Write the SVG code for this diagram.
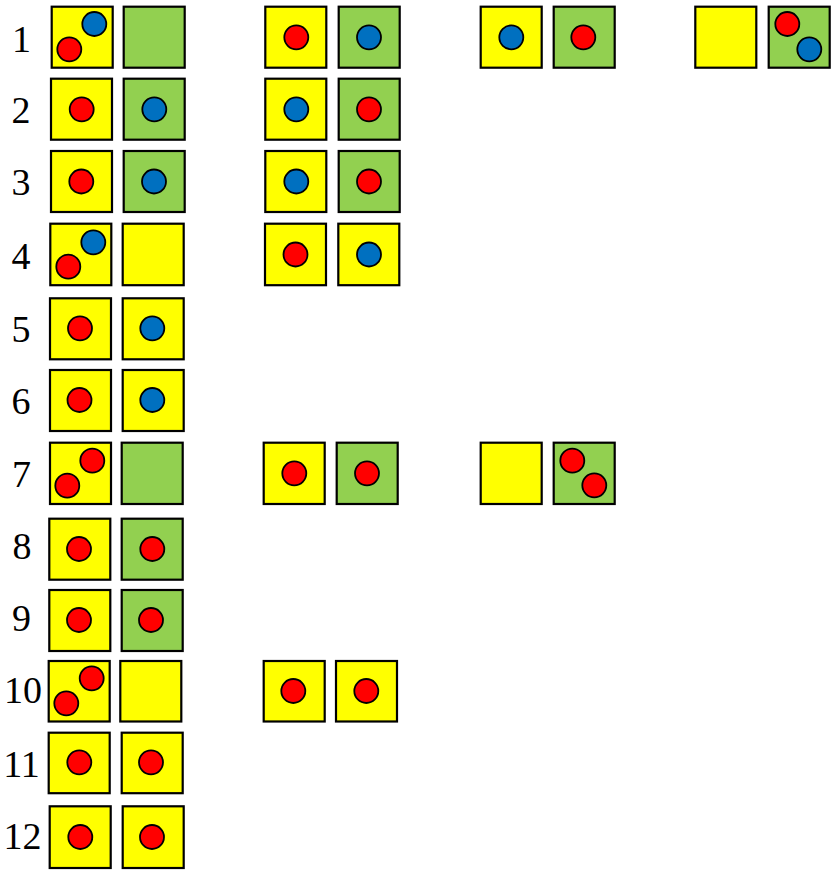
<svg xmlns="http://www.w3.org/2000/svg" width="839" height="873" viewBox="0 0 839 873">
<style>
.y{fill:#FFFF00;stroke:#000;stroke-width:2.2}
.g{fill:#92D050;stroke:#000;stroke-width:2.2}
.r{fill:#FF0000;stroke:#000;stroke-width:1.8}
.b{fill:#0070C0;stroke:#000;stroke-width:1.8}
.lbl{font-family:"Liberation Serif","Times New Roman",serif;font-size:38px;fill:#000;text-anchor:middle}
</style>
<rect width="839" height="873" fill="#fff"/>
<g id="labels">
<text class="lbl" x="21.5" y="51.7">1</text>
<text class="lbl" x="21" y="122.7">2</text>
<text class="lbl" x="21" y="195">3</text>
<text class="lbl" x="21" y="269">4</text>
<text class="lbl" x="21" y="342">5</text>
<text class="lbl" x="21" y="414">6</text>
<text class="lbl" x="21.5" y="486.7">7</text>
<text class="lbl" x="22" y="559">8</text>
<text class="lbl" x="21.5" y="631">9</text>
<text class="lbl" x="23" y="703.3">10</text>
<text class="lbl" x="21.5" y="776.7">11</text>
<text class="lbl" x="22.5" y="849">12</text>
</g>
<g id="row1">
<g id="r1-1"><rect class="y" x="51.7" y="6.7" width="61" height="61"/><circle class="b" cx="94.3" cy="24" r="12"/><circle class="r" cx="69.3" cy="49.3" r="12"/></g>
<g id="r1-2"><rect class="g" x="123.7" y="6.7" width="61" height="61"/></g>
<g id="r1-3"><rect class="y" x="265.3" y="6.7" width="61" height="61"/><circle class="r" cx="296.3" cy="37.3" r="12"/></g>
<g id="r1-4"><rect class="g" x="338.7" y="6.7" width="61" height="61"/><circle class="b" cx="369" cy="37.3" r="12"/></g>
<g id="r1-5"><rect class="y" x="480.7" y="6.7" width="61" height="61"/><circle class="b" cx="511.3" cy="37.3" r="12"/></g>
<g id="r1-6"><rect class="g" x="553.7" y="6.7" width="61" height="61"/><circle class="r" cx="583.3" cy="37.3" r="12"/></g>
<g id="r1-7"><rect class="y" x="695.3" y="6.7" width="61" height="61"/></g>
<g id="r1-8"><rect class="g" x="768.7" y="6.7" width="61" height="61"/><circle class="r" cx="787.3" cy="24" r="12"/><circle class="b" cx="809.3" cy="49.3" r="12"/></g>
</g>
<g id="row2">
<g id="r2-1"><rect class="y" x="51" y="78.7" width="61" height="61"/><circle class="r" cx="81.7" cy="109.3" r="12"/></g>
<g id="r2-2"><rect class="g" x="123.7" y="78.7" width="61" height="61"/><circle class="b" cx="154.3" cy="109.3" r="12"/></g>
<g id="r2-3"><rect class="y" x="265.3" y="78.7" width="61" height="61"/><circle class="b" cx="296.3" cy="109.3" r="12"/></g>
<g id="r2-4"><rect class="g" x="338.7" y="78.7" width="61" height="61"/><circle class="r" cx="369" cy="109.3" r="12"/></g>
</g>
<g id="row3">
<g id="r3-1"><rect class="y" x="51" y="151" width="61" height="61"/><circle class="r" cx="81.3" cy="181.5" r="12"/></g>
<g id="r3-2"><rect class="g" x="123.7" y="151" width="61" height="61"/><circle class="b" cx="154" cy="181.5" r="12"/></g>
<g id="r3-3"><rect class="y" x="265.3" y="151" width="61" height="61"/><circle class="b" cx="296.3" cy="181.5" r="12"/></g>
<g id="r3-4"><rect class="g" x="338.7" y="151" width="61" height="61"/><circle class="r" cx="369" cy="181.5" r="12"/></g>
</g>
<g id="row4">
<g id="r4-1"><rect class="y" x="50.3" y="223.7" width="61" height="61.5"/><circle class="b" cx="93.3" cy="242.3" r="12"/><circle class="r" cx="68.3" cy="266.7" r="12"/></g>
<g id="r4-2"><rect class="y" x="122.7" y="223.7" width="61" height="61.5"/></g>
<g id="r4-3"><rect class="y" x="265" y="223.7" width="61" height="61.5"/><circle class="r" cx="295.5" cy="254.5" r="12"/></g>
<g id="r4-4"><rect class="y" x="338.3" y="223.7" width="61" height="61.5"/><circle class="b" cx="369" cy="254.5" r="12"/></g>
</g>
<g id="row5">
<g id="r5-1"><rect class="y" x="50" y="298.3" width="61" height="61"/><circle class="r" cx="80" cy="328.3" r="12"/></g>
<g id="r5-2"><rect class="y" x="122.7" y="298.3" width="61" height="61"/><circle class="b" cx="152.3" cy="328.3" r="12"/></g>
</g>
<g id="row6">
<g id="r6-1"><rect class="y" x="50" y="370" width="61" height="61"/><circle class="r" cx="79.5" cy="400" r="12"/></g>
<g id="r6-2"><rect class="y" x="122.7" y="370" width="61" height="61"/><circle class="b" cx="152.3" cy="400" r="12"/></g>
</g>
<g id="row7">
<g id="r7-1"><rect class="y" x="50" y="442.7" width="61" height="61.3"/><circle class="r" cx="92.3" cy="460.7" r="12"/><circle class="r" cx="67.3" cy="485.7" r="12"/></g>
<g id="r7-2"><rect class="g" x="121.7" y="442.7" width="61" height="61.3"/></g>
<g id="r7-3"><rect class="y" x="263.7" y="442.7" width="61" height="61.3"/><circle class="r" cx="294.3" cy="473.3" r="12"/></g>
<g id="r7-4"><rect class="g" x="336.7" y="442.7" width="61" height="61.3"/><circle class="r" cx="367" cy="473.3" r="12"/></g>
<g id="r7-5"><rect class="y" x="480.7" y="442.7" width="61" height="61.3"/></g>
<g id="r7-6"><rect class="g" x="553.7" y="442.7" width="61" height="61.3"/><circle class="r" cx="572.3" cy="460.7" r="12"/><circle class="r" cx="594.3" cy="485.3" r="12"/></g>
</g>
<g id="row8">
<g id="r8-1"><rect class="y" x="49.3" y="518.7" width="61" height="61"/><circle class="r" cx="79" cy="549" r="12"/></g>
<g id="r8-2"><rect class="g" x="121.7" y="518.7" width="61" height="61"/><circle class="r" cx="152.3" cy="549" r="12"/></g>
</g>
<g id="row9">
<g id="r9-1"><rect class="y" x="49.3" y="590" width="61" height="61"/><circle class="r" cx="79" cy="620" r="12"/></g>
<g id="r9-2"><rect class="g" x="121.7" y="590" width="61" height="61"/><circle class="r" cx="151" cy="620" r="12"/></g>
</g>
<g id="row10">
<g id="r10-1"><rect class="y" x="48.7" y="661" width="61" height="60.5"/><circle class="r" cx="91.7" cy="678.3" r="12"/><circle class="r" cx="66.3" cy="703.3" r="12"/></g>
<g id="r10-2"><rect class="y" x="120.3" y="661" width="61" height="60.5"/></g>
<g id="r10-3"><rect class="y" x="263.7" y="661" width="61" height="60.5"/><circle class="r" cx="293.3" cy="691" r="12"/></g>
<g id="r10-4"><rect class="y" x="336" y="661" width="61" height="60.5"/><circle class="r" cx="366.3" cy="691" r="12"/></g>
</g>
<g id="row11">
<g id="r11-1"><rect class="y" x="48.7" y="732.7" width="61" height="60.5"/><circle class="r" cx="79.3" cy="762.3" r="12"/></g>
<g id="r11-2"><rect class="y" x="121.7" y="732.7" width="61" height="60.5"/><circle class="r" cx="151" cy="762.3" r="12"/></g>
</g>
<g id="row12">
<g id="r12-1"><rect class="y" x="49.7" y="806.3" width="61" height="61.7"/><circle class="r" cx="80.3" cy="837" r="12"/></g>
<g id="r12-2"><rect class="y" x="122.7" y="806.3" width="61" height="61.7"/><circle class="r" cx="152" cy="837" r="12"/></g>
</g>
<g id="connectors"/>
</svg>
